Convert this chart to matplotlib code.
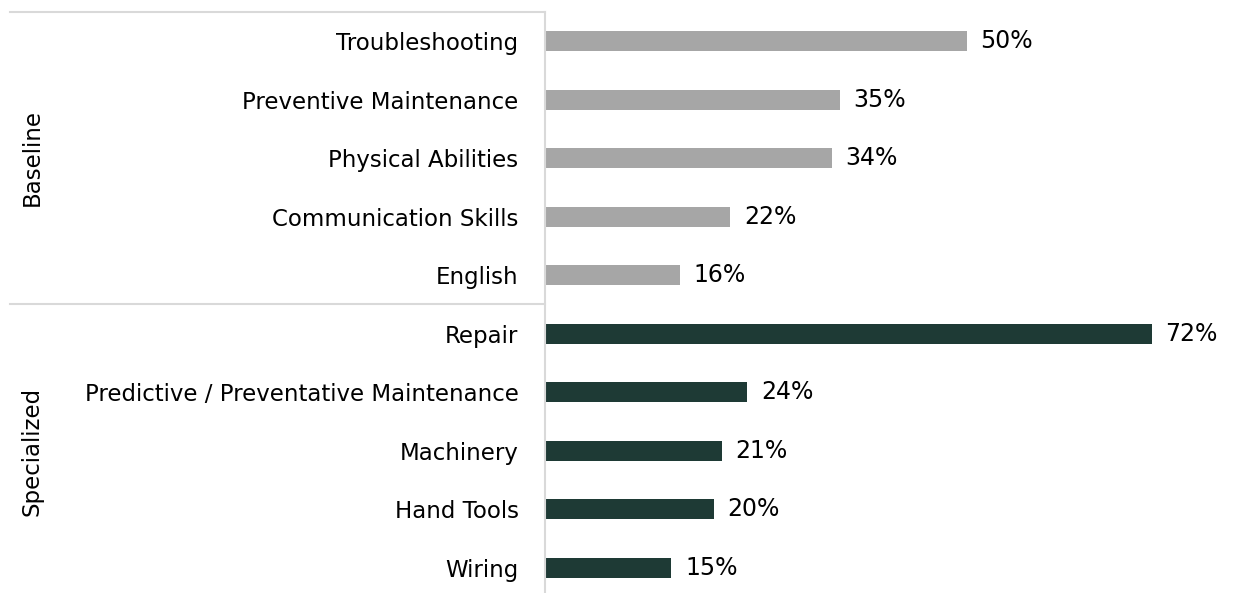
import matplotlib
matplotlib.use("Agg")
import matplotlib.pyplot as plt
from matplotlib.lines import Line2D

groups = ["Baseline", "Specialized"]
baseline_skills = ["Troubleshooting", "Preventive Maintenance", "Physical Abilities",
                   "Communication Skills", "English"]
baseline_pct = [50, 35, 34, 22, 16]
specialized_skills = ["Repair", "Predictive / Preventative Maintenance", "Machinery",
                      "Hand Tools", "Wiring"]
specialized_pct = [72, 24, 21, 20, 15]

gray = "#A6A6A6"
green = "#1E3A35"
line_col = "#D9D9D9"

plt.rcParams['font.family'] = ['DejaVu Sans']

labels = baseline_skills + specialized_skills
values = baseline_pct + specialized_pct
colors = [gray] * len(baseline_pct) + [green] * len(specialized_pct)
ypos = list(range(len(labels)))

W, H = 1235, 593
fig = plt.figure(figsize=(W / 100, H / 100), dpi=100)
ax = fig.add_axes([545 / W, 0, (1235 - 545) / W, (593 - 12) / H])

ax.barh(ypos, values, height=0.34, color=colors)
ax.set_ylim(9.43, -0.5)
ax.set_xlim(0, 690 / 8.43)

for y, v in zip(ypos, values):
    ax.text(v + 1.6, y, f"{v}%", va="center", ha="left", fontsize=17, color="black")

ax.set_yticks(ypos)
ax.set_yticklabels(labels, fontsize=16.5)
ax.tick_params(axis="y", length=0, pad=19)
ax.set_xticks([])
for s in ["top", "right", "bottom"]:
    ax.spines[s].set_visible(False)
ax.spines["left"].set_color(line_col)
ax.spines["left"].set_linewidth(1.5)

# group separators drawn in figure coordinates
for yy in [12, 304]:
    fig.add_artist(Line2D([10 / W, 545 / W], [1 - yy / H, 1 - yy / H],
                          color=line_col, linewidth=1.5))

fig.text(32 / W, 1 - 157 / H, groups[0], rotation=90, ha="center", va="center", fontsize=16.5)
fig.text(32 / W, 1 - 451 / H, groups[1], rotation=90, ha="center", va="center", fontsize=16.5)

fig.savefig("out.png", dpi=100)
